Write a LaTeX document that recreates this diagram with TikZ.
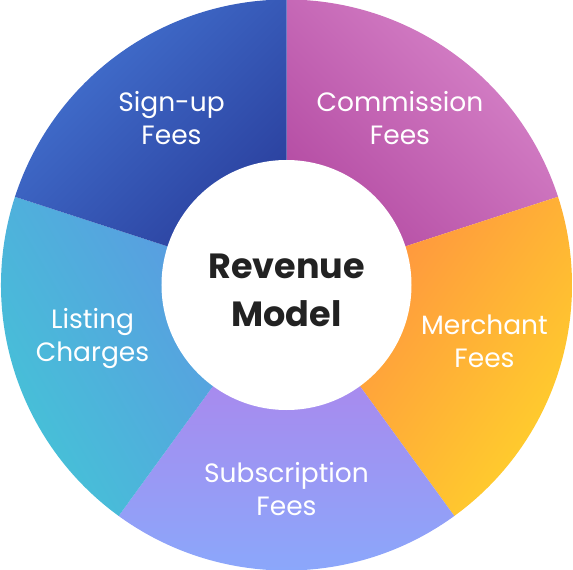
\documentclass[tikz,border=0pt]{standalone}
\usepackage{fontspec}
\setmainfont{Poppins}
\usepackage{tikz}
\usetikzlibrary{positioning}

\definecolor{pinklight}{HTML}{D886CA}
\definecolor{pinkdark}{HTML}{B54DA4}
\definecolor{orangewarm}{HTML}{FF963F}
\definecolor{yellowwarm}{HTML}{FFD52A}
\definecolor{violetsoft}{HTML}{A88AEE}
\definecolor{bluesoft}{HTML}{88AAFC}
\definecolor{cyanlight}{HTML}{43C6D6}
\definecolor{skyblue}{HTML}{5A9CE1}
\definecolor{royallight}{HTML}{4474D2}
\definecolor{royaldark}{HTML}{2B419F}
\definecolor{inkdark}{HTML}{222222}

\begin{document}
\begin{tikzpicture}[
  segment/.style={draw=none},
  label/.style={text=white, align=center, font={\fontsize{26.5}{33}\selectfont}},
  hub/.style={circle, fill=white, minimum size=250pt, inner sep=0pt}
]
  \useasboundingbox (-286.5pt,-285pt) rectangle (286.5pt,285pt);

  % ring segments
  \shade[segment, top color=pinklight, bottom color=pinkdark, shading angle=-45]
    (90:285.5pt) arc[start angle=90, end angle=18, radius=285.5pt] -- (18:120pt) arc[start angle=18, end angle=90, radius=120pt] -- cycle;
  \shade[segment, top color=yellowwarm, bottom color=orangewarm, shading angle=-125]
    (18:285.5pt) arc[start angle=18, end angle=-54, radius=285.5pt] -- (-54:120pt) arc[start angle=-54, end angle=18, radius=120pt] -- cycle;
  \shade[segment, top color=violetsoft, bottom color=bluesoft]
    (-54:285.5pt) arc[start angle=-54, end angle=-126, radius=285.5pt] -- (-126:120pt) arc[start angle=-126, end angle=-54, radius=120pt] -- cycle;
  \shade[segment, top color=skyblue, bottom color=cyanlight, shading angle=-60]
    (-126:285.5pt) arc[start angle=-126, end angle=-198, radius=285.5pt] -- (-198:120pt) arc[start angle=-198, end angle=-126, radius=120pt] -- cycle;
  \shade[segment, top color=royallight, bottom color=royaldark, shading angle=45]
    (162:285.5pt) arc[start angle=162, end angle=90, radius=285.5pt] -- (90:120pt) arc[start angle=90, end angle=162, radius=120pt] -- cycle;

  \node[hub] (hub) at (0,0) {};
  \node[font={\fontsize{35}{48}\selectfont\bfseries}, text=inkdark, align=center] (model) at (0pt,-5pt) {Revenue\\Model};

  \node[label] (commission) at (113.5pt,167pt) {Commission\\Fees};
  \node[label] (merchant) at (198pt,-56.5pt) {Merchant\\Fees};
  \node[label] (subscription) at (0pt,-204.5pt) {Subscription\\Fees};
  \node[label] (listing) at (-194pt,-53pt) {Listing\\Charges};
  \node[label] (signup) at (-115pt,166.5pt) {Sign-up\\Fees};
\end{tikzpicture}
\end{document}
